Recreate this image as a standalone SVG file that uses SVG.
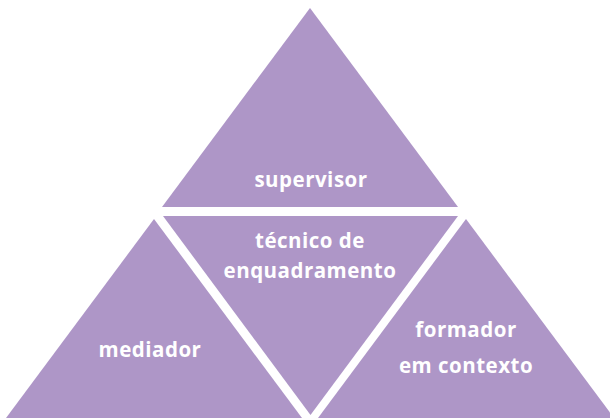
<svg xmlns="http://www.w3.org/2000/svg" width="610" height="418" viewBox="0 0 610 418">
<style>
.tri{fill:#ae96c7}
.lbl{fill:#ffffff;font-family:"Open Sans","Liberation Sans",sans-serif;font-weight:700;font-size:20.5px;letter-spacing:0.5px;text-anchor:middle}
</style>
<rect width="610" height="418" fill="#ffffff"/>
<g id="supervisor">
<polygon class="tri" points="310,8 458,207 162,207"/>
<text class="lbl" x="311" y="187">supervisor</text>
</g>
<g id="tecnico">
<polygon class="tri" points="163,216 458,216 310.5,415"/>
<text class="lbl" x="310" y="248">técnico de</text>
<text class="lbl" x="310" y="278">enquadramento</text>
</g>
<g id="mediador">
<polygon class="tri" points="154,219 302,418 6,418"/>
<text class="lbl" x="150" y="357">mediador</text>
</g>
<g id="formador">
<polygon class="tri" points="466,219 614,418 318,418"/>
<text class="lbl" x="466" y="337">formador</text>
<text class="lbl" x="466" y="373">em contexto</text>
</g>
<g id="connectors"/>
</svg>
